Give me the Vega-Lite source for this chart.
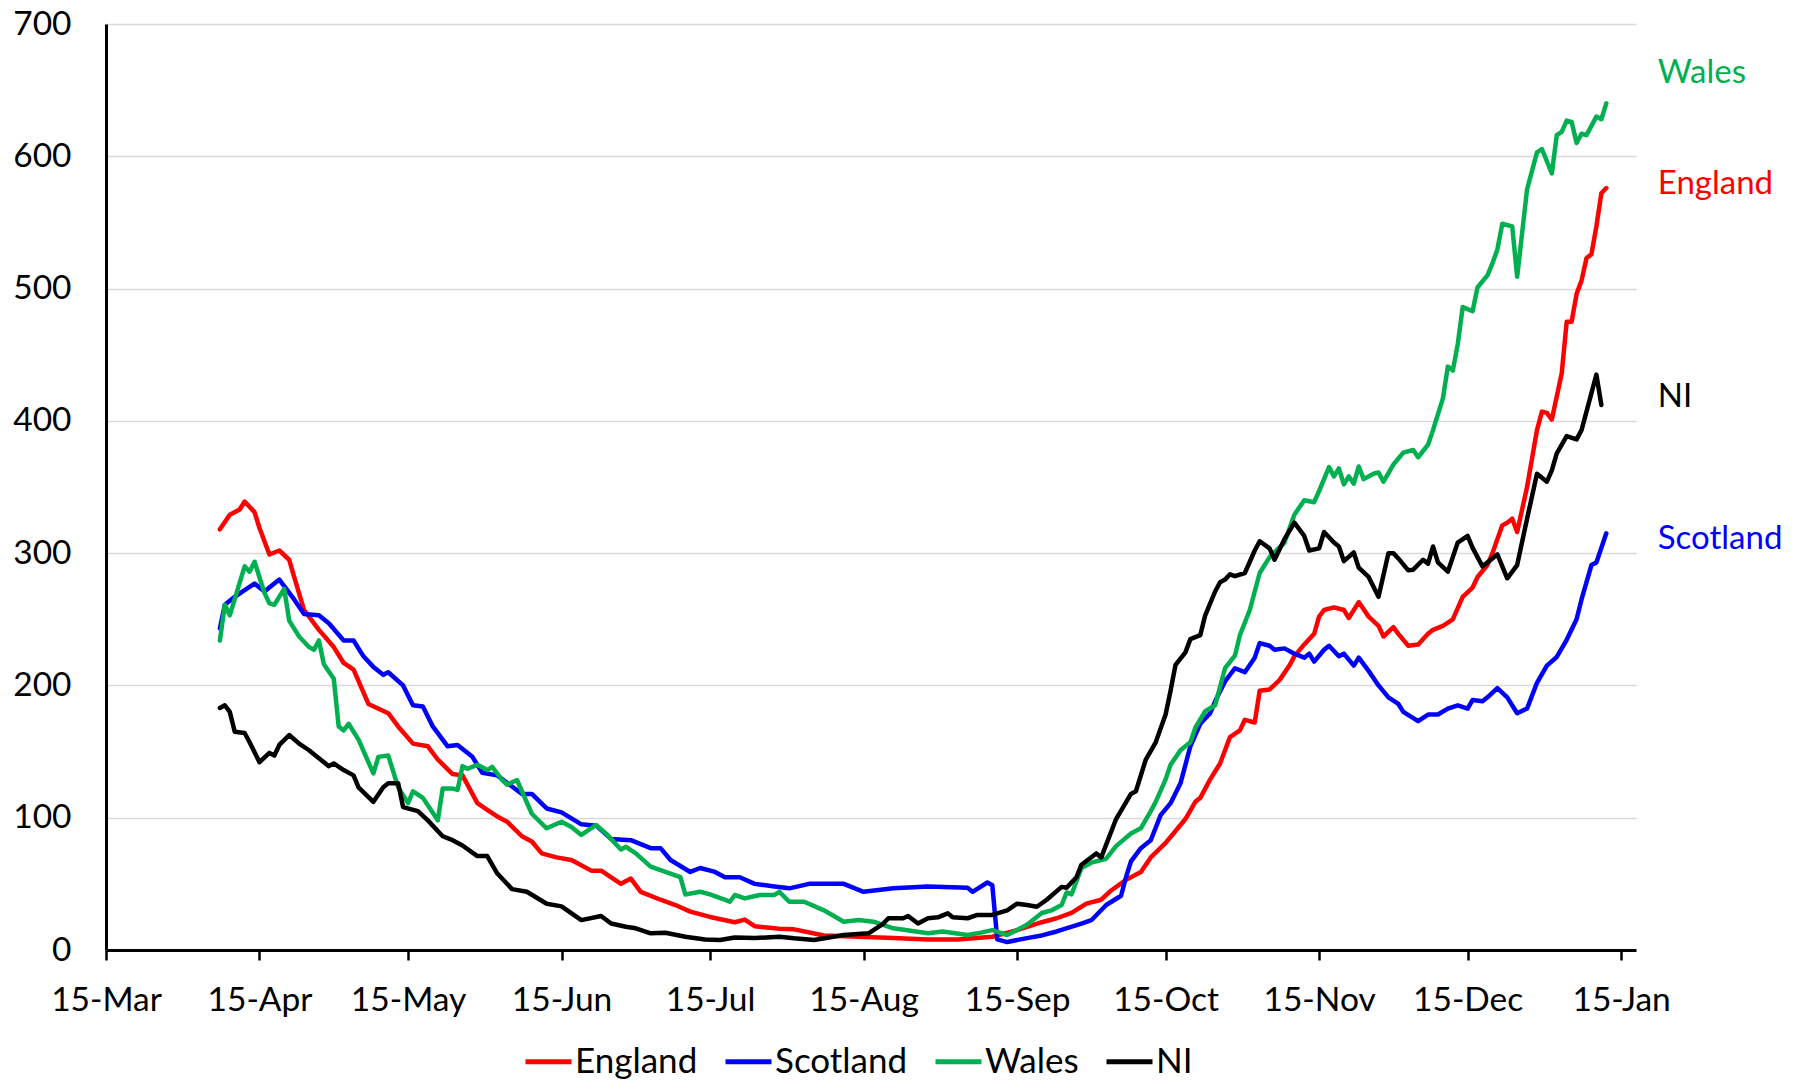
{
"$schema":"https://vega.github.io/schema/vega-lite/v6.json",
"width":1530,"height":926,
"autosize":"none",
"padding":{"left":106,"top":24,"right":160,"bottom":135},
"background":"white",
"config":{"view":{"stroke":null},"font":"Lato","text":{"font":"Lato"}},
"datasets":{
"series":[
{"s":"England","d":"2020-04-07","v":318},{"s":"England","d":"2020-04-09","v":329},{"s":"England","d":"2020-04-11","v":333},{"s":"England","d":"2020-04-12","v":339},{"s":"England","d":"2020-04-14","v":331},{"s":"England","d":"2020-04-15","v":319},{"s":"England","d":"2020-04-17","v":299},{"s":"England","d":"2020-04-19","v":302},{"s":"England","d":"2020-04-21","v":295},{"s":"England","d":"2020-04-22","v":282},{"s":"England","d":"2020-04-24","v":257},{"s":"England","d":"2020-04-27","v":242},{"s":"England","d":"2020-04-30","v":229},{"s":"England","d":"2020-05-02","v":217},{"s":"England","d":"2020-05-04","v":212},{"s":"England","d":"2020-05-07","v":186},{"s":"England","d":"2020-05-11","v":179},{"s":"England","d":"2020-05-13","v":169},{"s":"England","d":"2020-05-16","v":156},{"s":"England","d":"2020-05-19","v":154},{"s":"England","d":"2020-05-21","v":144},{"s":"England","d":"2020-05-24","v":133},{"s":"England","d":"2020-05-26","v":132},{"s":"England","d":"2020-05-29","v":111},{"s":"England","d":"2020-05-31","v":106},{"s":"England","d":"2020-06-02","v":101},{"s":"England","d":"2020-06-04","v":97},{"s":"England","d":"2020-06-07","v":86},{"s":"England","d":"2020-06-09","v":82},{"s":"England","d":"2020-06-11","v":73},{"s":"England","d":"2020-06-14","v":70},{"s":"England","d":"2020-06-17","v":68},{"s":"England","d":"2020-06-21","v":60},{"s":"England","d":"2020-06-23","v":60},{"s":"England","d":"2020-06-27","v":50},{"s":"England","d":"2020-06-29","v":54},{"s":"England","d":"2020-07-01","v":44},{"s":"England","d":"2020-07-05","v":38},{"s":"England","d":"2020-07-08","v":34},{"s":"England","d":"2020-07-11","v":29},{"s":"England","d":"2020-07-15","v":25},{"s":"England","d":"2020-07-20","v":21},{"s":"England","d":"2020-07-22","v":23},{"s":"England","d":"2020-07-24","v":18},{"s":"England","d":"2020-07-29","v":16},{"s":"England","d":"2020-08-01","v":15.6},{"s":"England","d":"2020-08-07","v":11},{"s":"England","d":"2020-08-14","v":10},{"s":"England","d":"2020-08-21","v":9},{"s":"England","d":"2020-08-28","v":8},{"s":"England","d":"2020-09-03","v":8},{"s":"England","d":"2020-09-10","v":10},{"s":"England","d":"2020-09-15","v":15},{"s":"England","d":"2020-09-20","v":21},{"s":"England","d":"2020-09-23","v":24},{"s":"England","d":"2020-09-26","v":28},{"s":"England","d":"2020-09-29","v":35},{"s":"England","d":"2020-10-02","v":38},{"s":"England","d":"2020-10-04","v":45},{"s":"England","d":"2020-10-07","v":53},{"s":"England","d":"2020-10-10","v":59},{"s":"England","d":"2020-10-12","v":70},{"s":"England","d":"2020-10-15","v":81},{"s":"England","d":"2020-10-17","v":90},{"s":"England","d":"2020-10-19","v":99},{"s":"England","d":"2020-10-21","v":112},{"s":"England","d":"2020-10-22","v":115},{"s":"England","d":"2020-10-24","v":129},{"s":"England","d":"2020-10-26","v":141},{"s":"England","d":"2020-10-28","v":161},{"s":"England","d":"2020-10-30","v":166},{"s":"England","d":"2020-10-31","v":174},{"s":"England","d":"2020-11-02","v":172},{"s":"England","d":"2020-11-03","v":196},{"s":"England","d":"2020-11-05","v":197},{"s":"England","d":"2020-11-07","v":204},{"s":"England","d":"2020-11-09","v":215},{"s":"England","d":"2020-11-10","v":222},{"s":"England","d":"2020-11-12","v":231},{"s":"England","d":"2020-11-14","v":239},{"s":"England","d":"2020-11-15","v":252},{"s":"England","d":"2020-11-16","v":257},{"s":"England","d":"2020-11-18","v":259},{"s":"England","d":"2020-11-20","v":257},{"s":"England","d":"2020-11-21","v":251},{"s":"England","d":"2020-11-23","v":263},{"s":"England","d":"2020-11-25","v":252},{"s":"England","d":"2020-11-27","v":245},{"s":"England","d":"2020-11-28","v":237},{"s":"England","d":"2020-11-30","v":244},{"s":"England","d":"2020-12-01","v":239},{"s":"England","d":"2020-12-03","v":230},{"s":"England","d":"2020-12-05","v":231},{"s":"England","d":"2020-12-07","v":239},{"s":"England","d":"2020-12-08","v":242},{"s":"England","d":"2020-12-10","v":245},{"s":"England","d":"2020-12-12","v":250},{"s":"England","d":"2020-12-14","v":267},{"s":"England","d":"2020-12-16","v":274},{"s":"England","d":"2020-12-17","v":282},{"s":"England","d":"2020-12-19","v":291},{"s":"England","d":"2020-12-20","v":300},{"s":"England","d":"2020-12-22","v":321},{"s":"England","d":"2020-12-23","v":323},{"s":"England","d":"2020-12-24","v":326},{"s":"England","d":"2020-12-25","v":316},{"s":"England","d":"2020-12-27","v":350},{"s":"England","d":"2020-12-29","v":393},{"s":"England","d":"2020-12-30","v":407},{"s":"England","d":"2020-12-31","v":406},{"s":"England","d":"2021-01-01","v":401},{"s":"England","d":"2021-01-03","v":436},{"s":"England","d":"2021-01-04","v":475},{"s":"England","d":"2021-01-05","v":475},{"s":"England","d":"2021-01-06","v":496},{"s":"England","d":"2021-01-07","v":506},{"s":"England","d":"2021-01-08","v":523},{"s":"England","d":"2021-01-09","v":526},{"s":"England","d":"2021-01-10","v":547},{"s":"England","d":"2021-01-11","v":572},{"s":"England","d":"2021-01-12","v":576},
{"s":"Scotland","d":"2020-04-07","v":243},{"s":"Scotland","d":"2020-04-08","v":261},{"s":"Scotland","d":"2020-04-10","v":267},{"s":"Scotland","d":"2020-04-12","v":272},{"s":"Scotland","d":"2020-04-14","v":277},{"s":"Scotland","d":"2020-04-16","v":271},{"s":"Scotland","d":"2020-04-19","v":280},{"s":"Scotland","d":"2020-04-22","v":265},{"s":"Scotland","d":"2020-04-24","v":254},{"s":"Scotland","d":"2020-04-27","v":253},{"s":"Scotland","d":"2020-04-29","v":247},{"s":"Scotland","d":"2020-05-02","v":234},{"s":"Scotland","d":"2020-05-04","v":234},{"s":"Scotland","d":"2020-05-06","v":222},{"s":"Scotland","d":"2020-05-08","v":214},{"s":"Scotland","d":"2020-05-10","v":208},{"s":"Scotland","d":"2020-05-11","v":210},{"s":"Scotland","d":"2020-05-14","v":200},{"s":"Scotland","d":"2020-05-16","v":185},{"s":"Scotland","d":"2020-05-18","v":184},{"s":"Scotland","d":"2020-05-20","v":169},{"s":"Scotland","d":"2020-05-23","v":154},{"s":"Scotland","d":"2020-05-25","v":155},{"s":"Scotland","d":"2020-05-28","v":146},{"s":"Scotland","d":"2020-05-30","v":134},{"s":"Scotland","d":"2020-06-02","v":132},{"s":"Scotland","d":"2020-06-07","v":118},{"s":"Scotland","d":"2020-06-09","v":118},{"s":"Scotland","d":"2020-06-12","v":107},{"s":"Scotland","d":"2020-06-15","v":104},{"s":"Scotland","d":"2020-06-19","v":95},{"s":"Scotland","d":"2020-06-22","v":94},{"s":"Scotland","d":"2020-06-25","v":84},{"s":"Scotland","d":"2020-06-29","v":83},{"s":"Scotland","d":"2020-07-03","v":77},{"s":"Scotland","d":"2020-07-05","v":77},{"s":"Scotland","d":"2020-07-07","v":68},{"s":"Scotland","d":"2020-07-11","v":59},{"s":"Scotland","d":"2020-07-13","v":62},{"s":"Scotland","d":"2020-07-16","v":59},{"s":"Scotland","d":"2020-07-18","v":55},{"s":"Scotland","d":"2020-07-21","v":55},{"s":"Scotland","d":"2020-07-24","v":50},{"s":"Scotland","d":"2020-07-28","v":48},{"s":"Scotland","d":"2020-07-31","v":46.6},{"s":"Scotland","d":"2020-08-04","v":50},{"s":"Scotland","d":"2020-08-11","v":50},{"s":"Scotland","d":"2020-08-15","v":44},{"s":"Scotland","d":"2020-08-21","v":46.6},{"s":"Scotland","d":"2020-08-28","v":48},{"s":"Scotland","d":"2020-09-05","v":47},{"s":"Scotland","d":"2020-09-06","v":44},{"s":"Scotland","d":"2020-09-09","v":51},{"s":"Scotland","d":"2020-09-10","v":49},{"s":"Scotland","d":"2020-09-11","v":8},{"s":"Scotland","d":"2020-09-13","v":6},{"s":"Scotland","d":"2020-09-17","v":9},{"s":"Scotland","d":"2020-09-20","v":11},{"s":"Scotland","d":"2020-09-23","v":14},{"s":"Scotland","d":"2020-09-28","v":20},{"s":"Scotland","d":"2020-09-30","v":22.5},{"s":"Scotland","d":"2020-10-03","v":34},{"s":"Scotland","d":"2020-10-06","v":41},{"s":"Scotland","d":"2020-10-07","v":55},{"s":"Scotland","d":"2020-10-08","v":67},{"s":"Scotland","d":"2020-10-10","v":77},{"s":"Scotland","d":"2020-10-12","v":83},{"s":"Scotland","d":"2020-10-14","v":102},{"s":"Scotland","d":"2020-10-16","v":111},{"s":"Scotland","d":"2020-10-18","v":126},{"s":"Scotland","d":"2020-10-19","v":140},{"s":"Scotland","d":"2020-10-20","v":154},{"s":"Scotland","d":"2020-10-22","v":171},{"s":"Scotland","d":"2020-10-24","v":179},{"s":"Scotland","d":"2020-10-25","v":188},{"s":"Scotland","d":"2020-10-27","v":203},{"s":"Scotland","d":"2020-10-29","v":213},{"s":"Scotland","d":"2020-10-31","v":210},{"s":"Scotland","d":"2020-11-02","v":221},{"s":"Scotland","d":"2020-11-03","v":232},{"s":"Scotland","d":"2020-11-05","v":230},{"s":"Scotland","d":"2020-11-06","v":227},{"s":"Scotland","d":"2020-11-08","v":228},{"s":"Scotland","d":"2020-11-10","v":224},{"s":"Scotland","d":"2020-11-12","v":221},{"s":"Scotland","d":"2020-11-13","v":224},{"s":"Scotland","d":"2020-11-14","v":218},{"s":"Scotland","d":"2020-11-16","v":227},{"s":"Scotland","d":"2020-11-17","v":230},{"s":"Scotland","d":"2020-11-19","v":222},{"s":"Scotland","d":"2020-11-20","v":224},{"s":"Scotland","d":"2020-11-22","v":215},{"s":"Scotland","d":"2020-11-23","v":221},{"s":"Scotland","d":"2020-11-25","v":211},{"s":"Scotland","d":"2020-11-27","v":200},{"s":"Scotland","d":"2020-11-29","v":191},{"s":"Scotland","d":"2020-12-01","v":186},{"s":"Scotland","d":"2020-12-02","v":180},{"s":"Scotland","d":"2020-12-05","v":173},{"s":"Scotland","d":"2020-12-07","v":178},{"s":"Scotland","d":"2020-12-09","v":178},{"s":"Scotland","d":"2020-12-11","v":182.5},{"s":"Scotland","d":"2020-12-13","v":185},{"s":"Scotland","d":"2020-12-15","v":182.5},{"s":"Scotland","d":"2020-12-16","v":189},{"s":"Scotland","d":"2020-12-18","v":188},{"s":"Scotland","d":"2020-12-19","v":191},{"s":"Scotland","d":"2020-12-21","v":198},{"s":"Scotland","d":"2020-12-23","v":191},{"s":"Scotland","d":"2020-12-25","v":179},{"s":"Scotland","d":"2020-12-27","v":182.5},{"s":"Scotland","d":"2020-12-29","v":202},{"s":"Scotland","d":"2020-12-31","v":215},{"s":"Scotland","d":"2021-01-02","v":221.5},{"s":"Scotland","d":"2021-01-04","v":234.5},{"s":"Scotland","d":"2021-01-06","v":250},{"s":"Scotland","d":"2021-01-07","v":265},{"s":"Scotland","d":"2021-01-09","v":291},{"s":"Scotland","d":"2021-01-10","v":293},{"s":"Scotland","d":"2021-01-12","v":315},
{"s":"Wales","d":"2020-04-07","v":234},{"s":"Wales","d":"2020-04-08","v":261},{"s":"Wales","d":"2020-04-09","v":253},{"s":"Wales","d":"2020-04-12","v":290},{"s":"Wales","d":"2020-04-13","v":286},{"s":"Wales","d":"2020-04-14","v":293.5},{"s":"Wales","d":"2020-04-16","v":270},{"s":"Wales","d":"2020-04-17","v":262},{"s":"Wales","d":"2020-04-18","v":261},{"s":"Wales","d":"2020-04-20","v":273},{"s":"Wales","d":"2020-04-21","v":249},{"s":"Wales","d":"2020-04-23","v":237},{"s":"Wales","d":"2020-04-25","v":229},{"s":"Wales","d":"2020-04-26","v":227},{"s":"Wales","d":"2020-04-27","v":234},{"s":"Wales","d":"2020-04-28","v":216},{"s":"Wales","d":"2020-04-30","v":205},{"s":"Wales","d":"2020-05-01","v":169},{"s":"Wales","d":"2020-05-02","v":166},{"s":"Wales","d":"2020-05-03","v":171},{"s":"Wales","d":"2020-05-05","v":159},{"s":"Wales","d":"2020-05-08","v":133.5},{"s":"Wales","d":"2020-05-09","v":146},{"s":"Wales","d":"2020-05-11","v":147},{"s":"Wales","d":"2020-05-13","v":123},{"s":"Wales","d":"2020-05-15","v":111},{"s":"Wales","d":"2020-05-16","v":120},{"s":"Wales","d":"2020-05-18","v":115},{"s":"Wales","d":"2020-05-21","v":98},{"s":"Wales","d":"2020-05-22","v":122},{"s":"Wales","d":"2020-05-24","v":122},{"s":"Wales","d":"2020-05-25","v":121},{"s":"Wales","d":"2020-05-26","v":139},{"s":"Wales","d":"2020-05-27","v":137},{"s":"Wales","d":"2020-05-29","v":140},{"s":"Wales","d":"2020-05-31","v":136},{"s":"Wales","d":"2020-06-01","v":138.5},{"s":"Wales","d":"2020-06-03","v":128.5},{"s":"Wales","d":"2020-06-04","v":125},{"s":"Wales","d":"2020-06-06","v":128.5},{"s":"Wales","d":"2020-06-07","v":120},{"s":"Wales","d":"2020-06-09","v":103},{"s":"Wales","d":"2020-06-12","v":92},{"s":"Wales","d":"2020-06-15","v":97},{"s":"Wales","d":"2020-06-17","v":93},{"s":"Wales","d":"2020-06-19","v":87},{"s":"Wales","d":"2020-06-22","v":94.5},{"s":"Wales","d":"2020-06-24","v":88},{"s":"Wales","d":"2020-06-27","v":76},{"s":"Wales","d":"2020-06-28","v":78},{"s":"Wales","d":"2020-06-30","v":73},{"s":"Wales","d":"2020-07-03","v":63},{"s":"Wales","d":"2020-07-06","v":59},{"s":"Wales","d":"2020-07-09","v":55},{"s":"Wales","d":"2020-07-10","v":42},{"s":"Wales","d":"2020-07-13","v":44},{"s":"Wales","d":"2020-07-15","v":42},{"s":"Wales","d":"2020-07-19","v":36.5},{"s":"Wales","d":"2020-07-20","v":41.6},{"s":"Wales","d":"2020-07-22","v":39},{"s":"Wales","d":"2020-07-25","v":41.6},{"s":"Wales","d":"2020-07-28","v":41.6},{"s":"Wales","d":"2020-07-29","v":44},{"s":"Wales","d":"2020-07-31","v":36.5},{"s":"Wales","d":"2020-08-03","v":36.5},{"s":"Wales","d":"2020-08-07","v":30},{"s":"Wales","d":"2020-08-11","v":21.4},{"s":"Wales","d":"2020-08-14","v":22.7},{"s":"Wales","d":"2020-08-17","v":21.4},{"s":"Wales","d":"2020-08-21","v":16.4},{"s":"Wales","d":"2020-08-28","v":12.6},{"s":"Wales","d":"2020-08-31","v":14},{"s":"Wales","d":"2020-09-05","v":11.3},{"s":"Wales","d":"2020-09-07","v":12.6},{"s":"Wales","d":"2020-09-10","v":15},{"s":"Wales","d":"2020-09-13","v":11.3},{"s":"Wales","d":"2020-09-17","v":19},{"s":"Wales","d":"2020-09-20","v":28},{"s":"Wales","d":"2020-09-22","v":30},{"s":"Wales","d":"2020-09-24","v":34},{"s":"Wales","d":"2020-09-25","v":43.5},{"s":"Wales","d":"2020-09-26","v":42},{"s":"Wales","d":"2020-09-28","v":62},{"s":"Wales","d":"2020-09-30","v":66},{"s":"Wales","d":"2020-10-03","v":69},{"s":"Wales","d":"2020-10-05","v":78.5},{"s":"Wales","d":"2020-10-08","v":88},{"s":"Wales","d":"2020-10-10","v":92},{"s":"Wales","d":"2020-10-12","v":105},{"s":"Wales","d":"2020-10-13","v":112},{"s":"Wales","d":"2020-10-15","v":129},{"s":"Wales","d":"2020-10-16","v":140},{"s":"Wales","d":"2020-10-18","v":151},{"s":"Wales","d":"2020-10-20","v":157},{"s":"Wales","d":"2020-10-21","v":168},{"s":"Wales","d":"2020-10-23","v":180.5},{"s":"Wales","d":"2020-10-25","v":185},{"s":"Wales","d":"2020-10-27","v":213},{"s":"Wales","d":"2020-10-29","v":222.5},{"s":"Wales","d":"2020-10-30","v":238},{"s":"Wales","d":"2020-11-01","v":257},{"s":"Wales","d":"2020-11-03","v":285},{"s":"Wales","d":"2020-11-05","v":297},{"s":"Wales","d":"2020-11-08","v":308},{"s":"Wales","d":"2020-11-10","v":329},{"s":"Wales","d":"2020-11-12","v":340},{"s":"Wales","d":"2020-11-14","v":338.5},{"s":"Wales","d":"2020-11-15","v":347},{"s":"Wales","d":"2020-11-17","v":365},{"s":"Wales","d":"2020-11-18","v":358},{"s":"Wales","d":"2020-11-19","v":364},{"s":"Wales","d":"2020-11-20","v":352},{"s":"Wales","d":"2020-11-21","v":358},{"s":"Wales","d":"2020-11-22","v":352.5},{"s":"Wales","d":"2020-11-23","v":365.5},{"s":"Wales","d":"2020-11-24","v":356},{"s":"Wales","d":"2020-11-26","v":360},{"s":"Wales","d":"2020-11-27","v":361},{"s":"Wales","d":"2020-11-28","v":354},{"s":"Wales","d":"2020-11-30","v":367},{"s":"Wales","d":"2020-12-02","v":376},{"s":"Wales","d":"2020-12-04","v":378},{"s":"Wales","d":"2020-12-05","v":372.5},{"s":"Wales","d":"2020-12-07","v":382},{"s":"Wales","d":"2020-12-08","v":393},{"s":"Wales","d":"2020-12-10","v":417},{"s":"Wales","d":"2020-12-11","v":441},{"s":"Wales","d":"2020-12-12","v":438},{"s":"Wales","d":"2020-12-13","v":458},{"s":"Wales","d":"2020-12-14","v":486},{"s":"Wales","d":"2020-12-16","v":483},{"s":"Wales","d":"2020-12-17","v":501},{"s":"Wales","d":"2020-12-19","v":510},{"s":"Wales","d":"2020-12-20","v":519},{"s":"Wales","d":"2020-12-21","v":529.5},{"s":"Wales","d":"2020-12-22","v":549},{"s":"Wales","d":"2020-12-24","v":547},{"s":"Wales","d":"2020-12-25","v":509},{"s":"Wales","d":"2020-12-26","v":542},{"s":"Wales","d":"2020-12-27","v":575},{"s":"Wales","d":"2020-12-29","v":603},{"s":"Wales","d":"2020-12-30","v":605.5},{"s":"Wales","d":"2021-01-01","v":587},{"s":"Wales","d":"2021-01-02","v":616},{"s":"Wales","d":"2021-01-03","v":618.5},{"s":"Wales","d":"2021-01-04","v":627},{"s":"Wales","d":"2021-01-05","v":626},{"s":"Wales","d":"2021-01-06","v":610},{"s":"Wales","d":"2021-01-07","v":617},{"s":"Wales","d":"2021-01-08","v":616},{"s":"Wales","d":"2021-01-10","v":630},{"s":"Wales","d":"2021-01-11","v":628},{"s":"Wales","d":"2021-01-12","v":640},
{"s":"NI","d":"2020-04-07","v":183},{"s":"NI","d":"2020-04-08","v":185},{"s":"NI","d":"2020-04-09","v":180},{"s":"NI","d":"2020-04-10","v":165},{"s":"NI","d":"2020-04-12","v":164},{"s":"NI","d":"2020-04-13","v":157},{"s":"NI","d":"2020-04-15","v":142},{"s":"NI","d":"2020-04-17","v":149},{"s":"NI","d":"2020-04-18","v":147},{"s":"NI","d":"2020-04-19","v":155},{"s":"NI","d":"2020-04-21","v":162.5},{"s":"NI","d":"2020-04-23","v":156},{"s":"NI","d":"2020-04-25","v":151},{"s":"NI","d":"2020-04-27","v":145},{"s":"NI","d":"2020-04-29","v":139},{"s":"NI","d":"2020-04-30","v":141},{"s":"NI","d":"2020-05-02","v":136},{"s":"NI","d":"2020-05-04","v":132},{"s":"NI","d":"2020-05-05","v":123},{"s":"NI","d":"2020-05-08","v":112},{"s":"NI","d":"2020-05-10","v":123},{"s":"NI","d":"2020-05-11","v":126},{"s":"NI","d":"2020-05-13","v":126},{"s":"NI","d":"2020-05-14","v":108},{"s":"NI","d":"2020-05-17","v":105},{"s":"NI","d":"2020-05-19","v":98},{"s":"NI","d":"2020-05-22","v":86},{"s":"NI","d":"2020-05-24","v":83},{"s":"NI","d":"2020-05-26","v":79},{"s":"NI","d":"2020-05-29","v":71},{"s":"NI","d":"2020-05-31","v":71},{"s":"NI","d":"2020-06-02","v":58},{"s":"NI","d":"2020-06-05","v":46},{"s":"NI","d":"2020-06-08","v":44},{"s":"NI","d":"2020-06-12","v":35},{"s":"NI","d":"2020-06-15","v":33},{"s":"NI","d":"2020-06-19","v":22.6},{"s":"NI","d":"2020-06-23","v":25.7},{"s":"NI","d":"2020-06-25","v":20},{"s":"NI","d":"2020-06-28","v":17.6},{"s":"NI","d":"2020-06-30","v":16.4},{"s":"NI","d":"2020-07-03","v":12.6},{"s":"NI","d":"2020-07-06","v":13},{"s":"NI","d":"2020-07-10","v":10},{"s":"NI","d":"2020-07-14","v":8},{"s":"NI","d":"2020-07-17","v":7.5},{"s":"NI","d":"2020-07-20","v":9.5},{"s":"NI","d":"2020-07-24","v":9},{"s":"NI","d":"2020-07-29","v":10},{"s":"NI","d":"2020-08-01","v":8.8},{"s":"NI","d":"2020-08-05","v":7.6},{"s":"NI","d":"2020-08-11","v":11.3},{"s":"NI","d":"2020-08-16","v":12.6},{"s":"NI","d":"2020-08-19","v":20},{"s":"NI","d":"2020-08-20","v":24},{"s":"NI","d":"2020-08-23","v":24},{"s":"NI","d":"2020-08-24","v":25.7},{"s":"NI","d":"2020-08-26","v":20},{"s":"NI","d":"2020-08-28","v":24},{"s":"NI","d":"2020-08-30","v":24.7},{"s":"NI","d":"2020-09-01","v":27.7},{"s":"NI","d":"2020-09-02","v":24.7},{"s":"NI","d":"2020-09-05","v":24},{"s":"NI","d":"2020-09-07","v":26.5},{"s":"NI","d":"2020-09-10","v":26.5},{"s":"NI","d":"2020-09-13","v":30},{"s":"NI","d":"2020-09-15","v":35},{"s":"NI","d":"2020-09-17","v":34},{"s":"NI","d":"2020-09-19","v":32.7},{"s":"NI","d":"2020-09-21","v":38},{"s":"NI","d":"2020-09-24","v":47.7},{"s":"NI","d":"2020-09-25","v":47},{"s":"NI","d":"2020-09-27","v":55},{"s":"NI","d":"2020-09-28","v":64.5},{"s":"NI","d":"2020-10-01","v":73},{"s":"NI","d":"2020-10-02","v":70},{"s":"NI","d":"2020-10-05","v":99},{"s":"NI","d":"2020-10-08","v":118},{"s":"NI","d":"2020-10-09","v":120},{"s":"NI","d":"2020-10-11","v":144},{"s":"NI","d":"2020-10-13","v":157},{"s":"NI","d":"2020-10-15","v":178},{"s":"NI","d":"2020-10-16","v":196},{"s":"NI","d":"2020-10-17","v":215.5},{"s":"NI","d":"2020-10-19","v":225},{"s":"NI","d":"2020-10-20","v":235},{"s":"NI","d":"2020-10-22","v":238},{"s":"NI","d":"2020-10-23","v":253},{"s":"NI","d":"2020-10-25","v":271},{"s":"NI","d":"2020-10-26","v":278},{"s":"NI","d":"2020-10-27","v":280},{"s":"NI","d":"2020-10-28","v":284},{"s":"NI","d":"2020-10-29","v":282.6},{"s":"NI","d":"2020-10-31","v":285},{"s":"NI","d":"2020-11-02","v":302},{"s":"NI","d":"2020-11-03","v":309},{"s":"NI","d":"2020-11-05","v":303.6},{"s":"NI","d":"2020-11-06","v":295},{"s":"NI","d":"2020-11-08","v":310.6},{"s":"NI","d":"2020-11-10","v":323},{"s":"NI","d":"2020-11-12","v":313},{"s":"NI","d":"2020-11-13","v":302},{"s":"NI","d":"2020-11-15","v":303.6},{"s":"NI","d":"2020-11-16","v":316},{"s":"NI","d":"2020-11-18","v":308},{"s":"NI","d":"2020-11-19","v":305},{"s":"NI","d":"2020-11-20","v":294},{"s":"NI","d":"2020-11-22","v":300.5},{"s":"NI","d":"2020-11-23","v":289},{"s":"NI","d":"2020-11-25","v":282},{"s":"NI","d":"2020-11-27","v":267},{"s":"NI","d":"2020-11-29","v":300},{"s":"NI","d":"2020-11-30","v":300},{"s":"NI","d":"2020-12-01","v":296},{"s":"NI","d":"2020-12-03","v":287},{"s":"NI","d":"2020-12-04","v":287.5},{"s":"NI","d":"2020-12-06","v":295},{"s":"NI","d":"2020-12-07","v":292},{"s":"NI","d":"2020-12-08","v":305},{"s":"NI","d":"2020-12-09","v":293},{"s":"NI","d":"2020-12-11","v":286},{"s":"NI","d":"2020-12-13","v":308},{"s":"NI","d":"2020-12-15","v":313},{"s":"NI","d":"2020-12-16","v":304},{"s":"NI","d":"2020-12-18","v":290},{"s":"NI","d":"2020-12-21","v":299},{"s":"NI","d":"2020-12-23","v":281},{"s":"NI","d":"2020-12-25","v":291},{"s":"NI","d":"2020-12-27","v":326},{"s":"NI","d":"2020-12-29","v":360},{"s":"NI","d":"2020-12-31","v":354},{"s":"NI","d":"2021-01-01","v":362.5},{"s":"NI","d":"2021-01-02","v":375.5},{"s":"NI","d":"2021-01-04","v":388.5},{"s":"NI","d":"2021-01-06","v":386},{"s":"NI","d":"2021-01-07","v":393},{"s":"NI","d":"2021-01-08","v":407},{"s":"NI","d":"2021-01-10","v":435},{"s":"NI","d":"2021-01-11","v":412}
],
"labels":[
{"s":"Wales","d":"2021-01-22","v":663},
{"s":"England","d":"2021-01-22","v":579},
{"s":"NI","d":"2021-01-22","v":418},
{"s":"Scotland","d":"2021-01-22","v":311}
]
},
"layer":[
{
"data":{"name":"series"},
"mark":{"type":"line","strokeWidth":4.5,"strokeJoin":"round","strokeCap":"round"},
"encoding":{
"x":{"field":"d","type":"temporal",
 "scale":{"type":"utc","domain":[{"year":2020,"month":3,"date":15,"utc":true},{"year":2021,"month":1,"date":18,"utc":true}]},
 "axis":{"title":null,"format":"%d-%b",
  "values":[{"year":2020,"month":3,"date":15,"utc":true},{"year":2020,"month":4,"date":15,"utc":true},{"year":2020,"month":5,"date":15,"utc":true},{"year":2020,"month":6,"date":15,"utc":true},{"year":2020,"month":7,"date":15,"utc":true},{"year":2020,"month":8,"date":15,"utc":true},{"year":2020,"month":9,"date":15,"utc":true},{"year":2020,"month":10,"date":15,"utc":true},{"year":2020,"month":11,"date":15,"utc":true},{"year":2020,"month":12,"date":15,"utc":true},{"year":2021,"month":1,"date":15,"utc":true}],
  "grid":false,"domainColor":"#000000","domainWidth":3,"tickColor":"#000000","tickWidth":2.5,"tickSize":10,
  "labelFontSize":33.5,"labelFont":"Lato","labelColor":"#000000","labelPadding":24,"labelOverlap":false,"labelBound":false,"labelFlush":false}},
"y":{"field":"v","type":"quantitative",
 "scale":{"domain":[0,700],"nice":false,"zero":true},
 "axis":{"title":null,"values":[0,100,200,300,400,500,600,700],"grid":true,"gridColor":"#D9D9D9","gridWidth":1.5,
  "ticks":false,"domainColor":"#000000","domainWidth":3,"labelFontSize":33.5,"labelFont":"Lato","labelColor":"#000000","labelPadding":35}},
"color":{"field":"s","type":"nominal",
 "scale":{"domain":["England","Scotland","Wales","NI"],"range":["#FF0000","#0000FF","#00B050","#000000"]},
 "legend":{"title":null,"orient":"none","legendX":417,"legendY":1012,"direction":"horizontal","symbolType":"stroke","symbolSize":2116,"symbolStrokeWidth":5,"labelFontSize":35,"labelFont":"Lato","labelColor":"#000000","labelOffset":1,"columnPadding":17,"padding":0}}
}
},
{
"data":{"name":"labels"},
"mark":{"type":"text","align":"left","baseline":"middle","fontSize":33,"font":"Lato","dx":2},
"encoding":{
"x":{"field":"d","type":"temporal","scale":{"type":"utc","domain":[{"year":2020,"month":3,"date":15,"utc":true},{"year":2021,"month":1,"date":18,"utc":true}]}},
"y":{"field":"v","type":"quantitative","scale":{"domain":[0,700],"nice":false}},
"text":{"field":"s"},
"color":{"field":"s","type":"nominal","scale":{"domain":["England","Scotland","Wales","NI"],"range":["#FF0000","#0000FF","#00B050","#000000"]},"legend":null}
}
}
],
"resolve":{"scale":{"color":"independent"},"legend":{"color":"independent"}}
}
